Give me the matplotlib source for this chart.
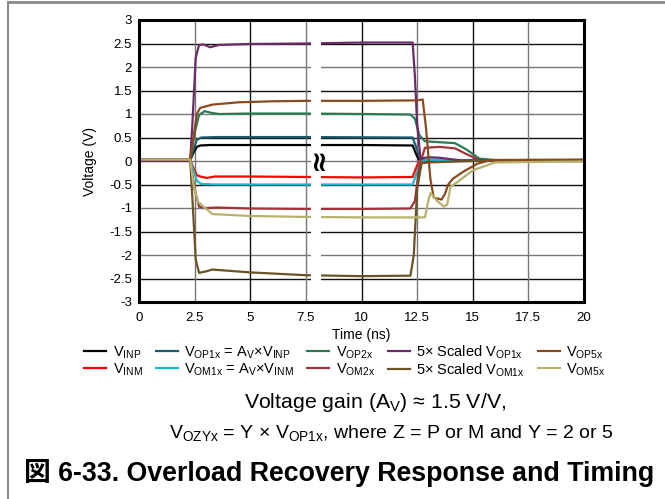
import numpy as np
import matplotlib
matplotlib.use("Agg")
import matplotlib.pyplot as plt
from matplotlib.lines import Line2D

plt.rcParams['font.family'] = ['Liberation Sans', 'Noto Sans CJK JP', 'DejaVu Sans']
plt.rcParams['mathtext.fontset'] = 'custom'
plt.rcParams['mathtext.rm'] = 'Liberation Sans'
plt.rcParams['mathtext.it'] = 'Liberation Sans:italic'
plt.rcParams['mathtext.bf'] = 'Liberation Sans:bold'

# ---- traces (time in ns, voltage in V) ----
t_inp = [0, 2.3, 2.45, 2.6, 2.75, 3.2, 5, 7.5, 10, 12.3, 12.45, 12.6, 13, 15, 20]
v_inp = [0.02, 0.02, 0.18, 0.3, 0.33, 0.34, 0.34, 0.34, 0.34, 0.33, 0.15, 0.01, 0.0, 0.01, 0.01]

t_inm = [0, 2.3, 2.45, 2.6, 2.75, 3.05, 3.4, 5, 7.5, 10, 12.3, 12.45, 12.6, 13, 15, 20]
v_inm = [0.02, 0.02, -0.15, -0.3, -0.33, -0.36, -0.33, -0.33, -0.34, -0.35, -0.34, -0.15, 0.0, 0.01, 0.01, 0.01]

t_op1 = [0, 2.3, 2.45, 2.6, 2.8, 3.5, 7.5, 12.3, 12.45, 12.65, 13, 15, 20]
v_op1 = [0.02, 0.02, 0.25, 0.45, 0.5, 0.51, 0.51, 0.5, 0.3, 0.02, 0.02, 0.02, 0.02]

t_om1 = [0, 2.3, 2.45, 2.6, 2.8, 3.5, 7.5, 12.3, 12.45, 12.65, 13, 15, 20]
v_om1 = [0.02, 0.02, -0.2, -0.42, -0.49, -0.5, -0.5, -0.5, -0.3, 0.0, 0.03, 0.01, 0.01]

t_op2 = [0, 2.3, 2.5, 2.7, 2.95, 3.3, 3.6, 5, 7.5, 10, 12.2, 12.4, 12.6, 12.85, 13.5, 14.2, 14.7, 15.3, 16, 20]
v_op2 = [0.02, 0.02, 0.6, 0.98, 1.06, 1.02, 1.0, 1.01, 1.01, 1.0, 0.99, 0.9, 0.55, 0.42, 0.4, 0.38, 0.25, 0.05, 0.02, 0.02]

t_om2 = [0, 2.3, 2.5, 2.7, 3.0, 3.5, 5, 7.5, 10, 12.2, 12.4, 12.6, 12.85, 13.5, 14.2, 14.7, 15.3, 16, 20]
v_om2 = [0.02, 0.02, -0.6, -0.97, -1.0, -0.99, -1.01, -1.02, -1.02, -1.01, -0.85, -0.1, 0.28, 0.3, 0.27, 0.15, 0.02, 0.0, 0.0]

t_op1_5 = [0, 2.3, 2.4, 2.55, 2.7, 2.9, 3.2, 3.6, 5, 7.5, 10, 12.3, 12.4, 12.5, 12.65, 13, 13.5, 14, 14.5, 20]
v_op1_5 = [0.0, 0.0, 0.8, 2.2, 2.47, 2.48, 2.42, 2.47, 2.49, 2.5, 2.52, 2.52, 1.8, 0.8, 0.05, 0.08, 0.07, 0.04, 0.01, 0.01]

t_om1_5 = [0, 2.3, 2.4, 2.55, 2.7, 3.0, 3.3, 5, 7.5, 10, 12.2, 12.35, 12.5, 12.7, 13, 15, 20]
v_om1_5 = [0.03, 0.03, -0.8, -2.1, -2.38, -2.35, -2.31, -2.37, -2.43, -2.45, -2.44, -2.0, -0.6, -0.05, -0.03, 0.0, 0.02]

t_op5 = [0, 2.3, 2.45, 2.6, 2.75, 3.3, 4.5, 6, 7.5, 10, 12.5, 12.75, 12.9, 13.1, 13.25, 13.6, 13.75,
         13.9, 14.1, 14.6, 15.2, 15.8, 20]
v_op5 = [0.03, 0.03, 0.5, 1.0, 1.13, 1.2, 1.25, 1.27, 1.28, 1.28, 1.29, 1.31, 0.7, -0.4, -0.78, -0.82, -0.7,
         -0.5, -0.38, -0.22, -0.06, 0.02, 0.03]

t_om5 = [0, 2.3, 2.45, 2.65, 3.3, 5, 7.5, 10, 12.85, 13.0, 13.1, 13.4, 13.7, 13.85, 14.0, 14.3, 15, 16, 20]
v_om5 = [0.03, 0.03, -0.5, -0.87, -1.13, -1.17, -1.19, -1.2, -1.2, -0.85, -0.68, -0.85, -0.97, -0.93, -0.55,
         -0.45, -0.2, -0.03, -0.01]

labels = [
    r'V$_{\rm INP}$',
    r'V$_{\rm INM}$',
    r'V$_{\rm OP1x}$ = A$_{\rm V}$×V$_{\rm INP}$',
    r'V$_{\rm OM1x}$ = A$_{\rm V}$×V$_{\rm INM}$',
    r'V$_{\rm OP2x}$',
    r'V$_{\rm OM2x}$',
    r'5× Scaled V$_{\rm OP1x}$',
    r'5× Scaled V$_{\rm OM1x}$',
    r'V$_{\rm OP5x}$',
    r'V$_{\rm OM5x}$',
]
colors = ['#000000', '#FF0000', '#1D5C70', '#19B9CE', '#2A7A55', '#A23439',
          '#6C2A69', '#6A5426', '#8A4A1E', '#B7B16E']
series = [(t_inp, v_inp), (t_inm, v_inm), (t_op1, v_op1), (t_om1, v_om1),
          (t_op2, v_op2), (t_om2, v_om2), (t_op1_5, v_op1_5), (t_om1_5, v_om1_5),
          (t_op5, v_op5), (t_om5, v_om5)]

x_ticks = [0, 2.5, 5, 7.5, 10, 12.5, 15, 17.5, 20]
x_ticklabels = ['0', '2.5', '5', '7.5', '10', '12.5', '15', '17.5', '20']
y_ticks = [3, 2.5, 2, 1.5, 1, 0.5, 0, -0.5, -1, -1.5, -2, -2.5, -3]
y_ticklabels = ['3', '2.5', '2', '1.5', '1', '0.5', '0', '-0.5', '-1', '-1.5', '-2', '-2.5', '-3']
break_start, break_end = 7.72, 8.2

W, H = 665, 499
fig = plt.figure(figsize=(W / 100, H / 100), dpi=100)
ax = fig.add_axes([139 / W, 1 - 302 / H, (584 - 139) / W, (302 - 20) / H])

ax.set_xlim(0, 20)
ax.set_ylim(-3, 3)

# grid, alternating dark and lighter lines
for i, yv in enumerate(y_ticks[1:-1]):
    ax.axhline(yv, color='#111111' if i % 2 == 0 else '#777777', lw=1.0, zorder=1)
for i, xv in enumerate(x_ticks[1:-1]):
    ax.axvline(xv, color='#777777' if i % 2 == 0 else '#111111', lw=1.0, zorder=1)

handles = []
for (tt, vv), c, lab in zip(series, colors, labels):
    h, = ax.plot(tt, vv, color=c, lw=1.6, label=lab, zorder=3, solid_joinstyle='round')
    handles.append(h)

# time-axis break
ax.axvspan(break_start, break_end, color='white', zorder=4, lw=0)
ax.text((break_start + break_end) / 2 + 0.05, 0.05, '≈', rotation=90, fontsize=20,
        fontweight='bold', ha='center', va='center', zorder=5, family='DejaVu Sans')

ax.set_xticks(x_ticks)
ax.set_xticklabels(x_ticklabels)
ax.set_yticks(y_ticks)
ax.set_yticklabels(y_ticklabels)
ax.tick_params(length=0, labelsize=9.5)
ax.tick_params(axis='x', pad=7)
ax.tick_params(axis='y', pad=5)
for s in ax.spines.values():
    s.set_linewidth(2.2)
    s.set_color('black')
    s.set_zorder(6)

ax.set_xlabel('Time (ns)', fontsize=10, labelpad=3)
ax.set_ylabel('Voltage (V)', fontsize=10, labelpad=9)

leg = fig.legend(handles=handles, labels=labels, ncol=5, loc='center',
                 bbox_to_anchor=(345 / W, 1 - 361 / H), frameon=False, fontsize=10.5,
                 handlelength=1.5, handletextpad=0.45, columnspacing=0.9,
                 labelspacing=0.05, borderpad=0)

fig.text(375 / W, 1 - 402 / H, r'Voltage gain (A$_{\rm V}$) ≈ 1.5 V/V,', ha='center', va='center',
         fontsize=15.3)
fig.text(391 / W, 1 - 433 / H, r'V$_{\rm OZYx}$ = Y × V$_{\rm OP1x}$, where Z = P or M and Y = 2 or 5',
         ha='center', va='center', fontsize=14)
fig.text(24 / W, 1 - 473 / H, '図 6-33. Overload Recovery Response and Timing', ha='left', va='center',
         fontsize=19.3, fontweight='bold')

# figure frame: top and left rules
fig.add_artist(Line2D([8 / W, 1], [1 - 2 / H, 1 - 2 / H], color='#8A8A8A', lw=2))
fig.add_artist(Line2D([8 / W, 8 / W], [0, 1 - 2 / H], color='#8A8A8A', lw=1.5))

fig.savefig('out.png', dpi=100)
